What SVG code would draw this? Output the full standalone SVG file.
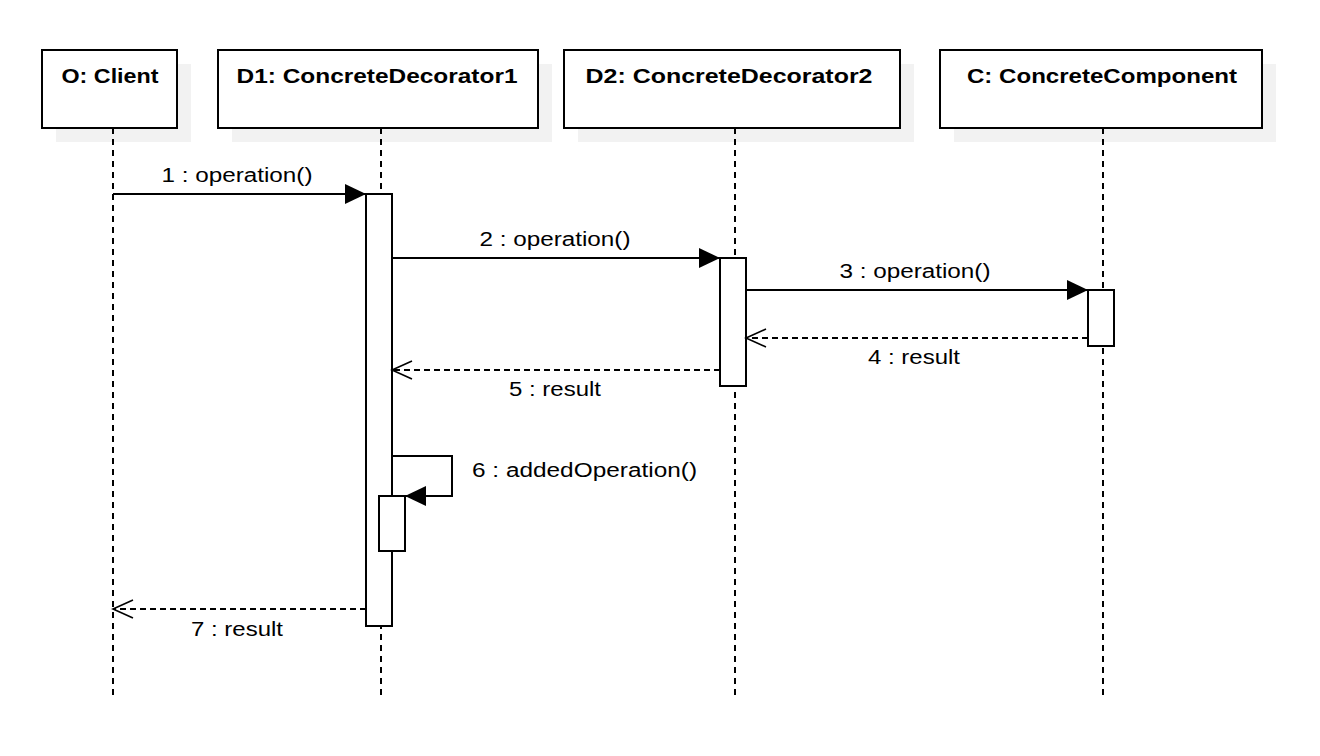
<svg xmlns="http://www.w3.org/2000/svg" width="1320" height="756" viewBox="0 0 1320 756">
<style>
.shadow{fill:#f2f2f2;stroke:none}
.box{fill:#fff;stroke:#000;stroke-width:2}
.head{font-family:"Liberation Sans",Arial,sans-serif;font-weight:bold;font-size:21px;fill:#000}
.lbl{font-family:"Liberation Sans",Arial,sans-serif;font-size:20px;fill:#000}
.life{stroke:#000;stroke-width:2;stroke-dasharray:6 5;fill:none}
.act{fill:#fff;stroke:#000;stroke-width:2}
.msg{stroke:#000;stroke-width:2;fill:none}
.ret{stroke:#000;stroke-width:1.8;stroke-dasharray:6 4;fill:none}
</style>
<defs>
<marker id="filled" markerWidth="24" markerHeight="24" refX="21" refY="10" orient="auto" markerUnits="userSpaceOnUse" overflow="visible"><path d="M0,0 L21,10 L0,20 z" fill="#000"/></marker>
<marker id="open" markerWidth="24" markerHeight="24" refX="21" refY="10" orient="auto" markerUnits="userSpaceOnUse" overflow="visible"><path d="M1,1 L21,10 L1,19" fill="none" stroke="#000" stroke-width="1.6"/></marker>
</defs>
<rect width="1320" height="756" fill="#fff"/>
<g id="client">
<rect class="shadow" x="56" y="64" width="135" height="78"/>
<line class="life" x1="113" y1="128" x2="113" y2="700"/>
<rect class="box" x="42" y="50" width="135" height="78"/>
<text class="head" x="110" y="83" text-anchor="middle" textLength="97" lengthAdjust="spacingAndGlyphs">O: Client</text>
</g>
<g id="d1">
<rect class="shadow" x="232" y="64" width="320" height="78"/>
<line class="life" x1="381" y1="128" x2="381" y2="700"/>
<rect class="box" x="218" y="50" width="320" height="78"/>
<text class="head" x="377" y="83" text-anchor="middle" textLength="281" lengthAdjust="spacingAndGlyphs">D1: ConcreteDecorator1</text>
<rect class="act" x="366" y="194" width="26" height="432"/>
<rect class="act" x="379" y="496" width="26" height="55"/>
</g>
<g id="d2">
<rect class="shadow" x="578" y="64" width="336" height="78"/>
<line class="life" x1="735" y1="128" x2="735" y2="700"/>
<rect class="box" x="564" y="50" width="336" height="78"/>
<text class="head" x="729" y="83" text-anchor="middle" textLength="287" lengthAdjust="spacingAndGlyphs">D2: ConcreteDecorator2</text>
<rect class="act" x="720" y="258" width="26" height="128"/>
</g>
<g id="c">
<rect class="shadow" x="954" y="64" width="322" height="78"/>
<line class="life" x1="1103" y1="128" x2="1103" y2="700"/>
<rect class="box" x="940" y="50" width="322" height="78"/>
<text class="head" x="1102" y="83" text-anchor="middle" textLength="270" lengthAdjust="spacingAndGlyphs">C: ConcreteComponent</text>
<rect class="act" x="1088" y="290" width="26" height="56"/>
</g>
<g id="connectors">
<line class="msg" x1="113" y1="194" x2="366" y2="194" marker-end="url(#filled)"/>
<text class="lbl" x="237" y="182" text-anchor="middle" textLength="151" lengthAdjust="spacingAndGlyphs">1 : operation()</text>
<line class="msg" x1="392" y1="258" x2="720" y2="258" marker-end="url(#filled)"/>
<text class="lbl" x="555" y="246" text-anchor="middle" textLength="151" lengthAdjust="spacingAndGlyphs">2 : operation()</text>
<line class="msg" x1="746" y1="290" x2="1088" y2="290" marker-end="url(#filled)"/>
<text class="lbl" x="915" y="278" text-anchor="middle" textLength="151" lengthAdjust="spacingAndGlyphs">3 : operation()</text>
<line class="ret" x1="1088" y1="338" x2="746" y2="338" marker-end="url(#open)"/>
<text class="lbl" x="914" y="364" text-anchor="middle" textLength="92" lengthAdjust="spacingAndGlyphs">4 : result</text>
<line class="ret" x1="720" y1="370" x2="392" y2="370" marker-end="url(#open)"/>
<text class="lbl" x="555" y="396" text-anchor="middle" textLength="92" lengthAdjust="spacingAndGlyphs">5 : result</text>
<path class="msg" d="M392,456 H452 V496 H405" marker-end="url(#filled)"/>
<text class="lbl" x="472" y="477" textLength="225" lengthAdjust="spacingAndGlyphs">6 : addedOperation()</text>
<line class="ret" x1="366" y1="609" x2="113" y2="609" marker-end="url(#open)"/>
<text class="lbl" x="237" y="636" text-anchor="middle" textLength="92" lengthAdjust="spacingAndGlyphs">7 : result</text>
</g>
</svg>
